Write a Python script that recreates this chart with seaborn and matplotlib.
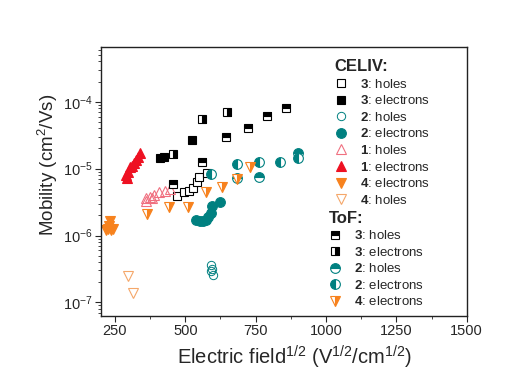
import numpy as np
import pandas as pd
import matplotlib
matplotlib.use("Agg")
import matplotlib.pyplot as plt
import seaborn as sns
from matplotlib.ticker import LogLocator, MultipleLocator, NullFormatter

# ---------------- data ----------------
c3h_x = [470, 497, 512, 527, 540, 548, 577]
c3h_y = [3.95e-6, 4.4e-6, 4.7e-6, 5.2e-6, 6.4e-6, 7.6e-6, 8.7e-6]

c3e_x = [410, 424, 523]
c3e_y = [1.46e-5, 1.51e-5, 2.71e-5]

c2h_x = [590, 594, 592, 597]
c2h_y = [3.6e-7, 3.2e-7, 2.9e-7, 2.6e-7]

c2e_x = [537, 551, 562, 573, 580, 590, 594, 622]
c2e_y = [1.68e-6, 1.62e-6, 1.62e-6, 1.73e-6, 1.92e-6, 2.2e-6, 2.8e-6, 3.2e-6]

c1h_x = [360, 360, 374, 381, 388, 406, 427, 445]
c1h_y = [3.69e-6, 3.3e-6, 3.8e-6, 3.6e-6, 4.1e-6, 4.4e-6, 4.7e-6, 5.0e-6]

c1e_x = [289, 293, 296, 303, 310, 317, 324, 332, 339]
c1e_y = [8.0e-6, 7.3e-6, 9.0e-6, 1.07e-5, 1.1e-5, 1.23e-5, 1.36e-5, 1.51e-5, 1.73e-5]

c4e_x = [218, 225, 229, 232, 236, 243]
c4e_y = [1.2e-6, 1.23e-6, 1.4e-6, 1.63e-6, 1.19e-6, 1.23e-6]

c4h_x = [296, 314]
c4h_y = [2.44e-7, 1.36e-7]

t3h_x = [456, 558, 644, 722, 789, 856]
t3h_y = [5.97e-6, 1.27e-5, 3.0e-5, 4.1e-5, 6.2e-5, 8.1e-5]

t3e_x = [456, 558, 647]
t3e_y = [1.68e-5, 5.6e-5, 7.1e-5]

t2h_x = [683, 761, 902]
t2h_y = [7.3e-6, 7.6e-6, 1.73e-5]

t2e_x = [590, 683, 761, 835, 902]
t2e_y = [8.4e-6, 1.19e-5, 1.27e-5, 1.27e-5, 1.46e-5]

t4e_x = [363, 441, 509, 573, 629, 683, 729]
t4e_y = [2.13e-6, 2.71e-6, 2.71e-6, 4.4e-6, 5.4e-6, 6.9e-6, 1.07e-5]

celiv_labels = [r"$\mathbf{3}$: holes", r"$\mathbf{3}$: electrons",
                r"$\mathbf{2}$: holes", r"$\mathbf{2}$: electrons",
                r"$\mathbf{1}$: holes", r"$\mathbf{1}$: electrons",
                r"$\mathbf{4}$: electrons", r"$\mathbf{4}$: holes"]
tof_labels = [r"$\mathbf{3}$: holes", r"$\mathbf{3}$: electrons",
              r"$\mathbf{2}$: holes", r"$\mathbf{2}$: electrons",
              r"$\mathbf{4}$: electrons"]

# ---------------- style ----------------
sns.set_style("ticks")
plt.rcParams["font.family"] = ["Liberation Sans", "DejaVu Sans"]
plt.rcParams["mathtext.fontset"] = "custom"
plt.rcParams["mathtext.rm"] = "Liberation Sans"
plt.rcParams["mathtext.it"] = "Liberation Sans:italic"
plt.rcParams["mathtext.bf"] = "Liberation Sans:bold"

BLACK = "#000000"
TEAL = "#008080"
RED = "#EE1122"
RED_L = "#F07080"
ORANGE = "#F7821E"
ORANGE_L = "#F5A76A"

fig = plt.figure(figsize=(5.31, 3.72), dpi=100)
ax = fig.add_axes([0.190, 0.151, 0.689, 0.723])

def draw(x, y, **kw):
    df = pd.DataFrame({"x": x, "y": y})
    sns.lineplot(data=df, x="x", y="y", ax=ax, estimator=None, sort=False,
                 linestyle="", **kw)
    return ax.lines[-1]

celiv = [
    draw(c3h_x, c3h_y, marker="s", markersize=6, markerfacecolor="white",
         markeredgecolor=BLACK, markeredgewidth=0.8, color=BLACK),
    draw(c3e_x, c3e_y, marker="s", markersize=6, markerfacecolor=BLACK,
         markeredgecolor=BLACK, markeredgewidth=0.8, color=BLACK),
    draw(c2h_x, c2h_y, marker="o", markersize=6, markerfacecolor="none",
         markeredgecolor=TEAL, markeredgewidth=0.7, color=TEAL),
    draw(c2e_x, c2e_y, marker="o", markersize=7, markerfacecolor=TEAL,
         markeredgecolor=TEAL, markeredgewidth=0.8, color=TEAL),
    draw(c1h_x, c1h_y, marker="^", markersize=7, markerfacecolor="none",
         markeredgecolor=RED_L, markeredgewidth=0.8, color=RED_L),
    draw(c1e_x, c1e_y, marker="^", markersize=7, markerfacecolor=RED,
         markeredgecolor=RED, markeredgewidth=0.8, color=RED),
    draw(c4e_x, c4e_y, marker="v", markersize=7, markerfacecolor=ORANGE,
         markeredgecolor=ORANGE, markeredgewidth=0.8, color=ORANGE),
    draw(c4h_x, c4h_y, marker="v", markersize=7, markerfacecolor="none",
         markeredgecolor=ORANGE_L, markeredgewidth=0.8, color=ORANGE_L),
]
tof = [
    draw(t3h_x, t3h_y, marker="s", markersize=6, fillstyle="top",
         markerfacecolor=BLACK, markerfacecoloralt="white",
         markeredgecolor=BLACK, markeredgewidth=0.8, color=BLACK),
    draw(t3e_x, t3e_y, marker="s", markersize=6, fillstyle="right",
         markerfacecolor=BLACK, markerfacecoloralt="white",
         markeredgecolor=BLACK, markeredgewidth=0.8, color=BLACK),
    draw(t2h_x, t2h_y, marker="o", markersize=7, fillstyle="top",
         markerfacecolor=TEAL, markerfacecoloralt="white",
         markeredgecolor=TEAL, markeredgewidth=0.8, color=TEAL),
    draw(t2e_x, t2e_y, marker="o", markersize=7, fillstyle="left",
         markerfacecolor=TEAL, markerfacecoloralt="white",
         markeredgecolor=TEAL, markeredgewidth=0.8, color=TEAL),
    draw(t4e_x, t4e_y, marker="v", markersize=7.5, fillstyle="right",
         markerfacecolor=ORANGE, markerfacecoloralt="white",
         markeredgecolor=ORANGE, markeredgewidth=0.8, color=ORANGE),
]

ax.set_yscale("log")
ax.set_xlim(200, 1500)
ax.set_ylim(6.3e-8, 6.6e-4)
ax.xaxis.set_major_locator(MultipleLocator(250))
ax.xaxis.set_minor_locator(MultipleLocator(125))
ax.yaxis.set_major_locator(LogLocator(base=10, numticks=10))
ax.yaxis.set_minor_locator(LogLocator(base=10, subs=np.arange(2, 10), numticks=50))
ax.yaxis.set_minor_formatter(NullFormatter())
ax.tick_params(axis="both", which="major", labelsize=10.5, length=4, width=0.8,
               direction="out", top=False, right=False, pad=2)
ax.tick_params(axis="both", which="minor", length=2, width=0.6,
               direction="out", top=False, right=False)
for s in ax.spines.values():
    s.set_linewidth(1.0)
    s.set_color("#222222")

ax.set_xlabel(r"Electric field$^{1/2}$ (V$^{1/2}$/cm$^{1/2}$)", fontsize=14.5)
ax.set_ylabel(r"Mobility (cm$^{2}$/Vs)", fontsize=13.5)
ax.xaxis.set_label_coords(0.530, -0.156, transform=ax.transAxes)
ax.xaxis.label.set_va("center")
ax.yaxis.set_label_coords(-0.145, 0.56, transform=ax.transAxes)
ax.yaxis.label.set_va("center")

leg1 = ax.legend(celiv, celiv_labels, title="CELIV:", loc="upper left",
                 bbox_to_anchor=(0.632, 0.964), frameon=False, fontsize=9.5,
                 labelspacing=0.27, handlelength=1.0, handletextpad=0.9,
                 borderaxespad=0, borderpad=0.2,
                 title_fontproperties={"weight": "bold", "size": 12},
                 alignment="left")
ax.add_artist(leg1)
leg2 = ax.legend(tof, tof_labels, title="ToF:", loc="upper left",
                 bbox_to_anchor=(0.616, 0.401), frameon=False, fontsize=9.5,
                 labelspacing=0.27, handlelength=1.0, handletextpad=0.9,
                 borderaxespad=0, borderpad=0.2,
                 title_fontproperties={"weight": "bold", "size": 12},
                 alignment="left")

fig.savefig("out.png", dpi=100)
